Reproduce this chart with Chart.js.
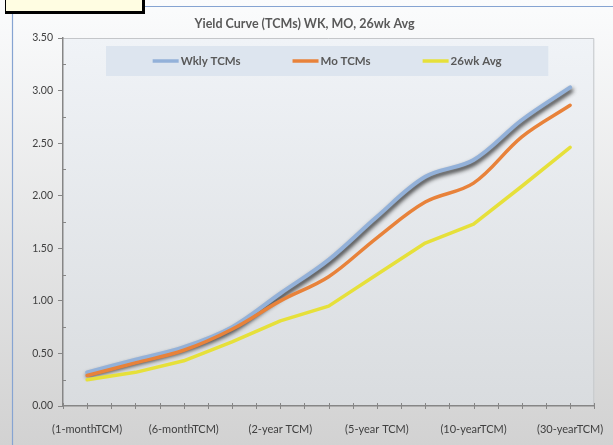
<html lang="en">
<head>
  <meta charset="UTF-8">
  <title>Yield Curve</title>
  <style>
    html, body { margin: 0; padding: 0; background: #e6e6e6; }
    #wrap { position: relative; width: 613px; height: 445px; overflow: hidden; }
    #note { position: absolute; left: 5px; top: -5px; width: 136px; height: 15px;
            background: #fffde2; border: 1px solid #000; border-right-width: 3px; border-bottom-width: 3px; }
  </style>
</head>
<body>
  <div id="wrap">
    <canvas id="chart" width="613" height="445"></canvas>
    <div id="note"></div>
  </div>

  <script src="https://cdn.jsdelivr.net/npm/chart.js"></script>
  <script>
    // x categories (only every other one gets a label on the axis)
    const categories = ['(1-monthTCM)', '(3-monthTCM)', '(6-monthTCM)', '(1-year TCM)', '(2-year TCM)',
      '(3-year TCM)', '(5-year TCM)', '(7-year TCM)', '(10-yearTCM)', '(20-yearTCM)', '(30-yearTCM)'];
    const seriesNames = ['Wkly TCMs', 'Mo TCMs', '26wk Avg'];
    const wklyTCMs = [0.32, 0.44, 0.56, 0.75, 1.07, 1.39, 1.80, 2.18, 2.34, 2.72, 3.03];
    const moTCMs   = [0.29, 0.41, 0.53, 0.73, 1.00, 1.23, 1.60, 1.94, 2.12, 2.56, 2.86];
    const avg26wk  = [0.25, 0.32, 0.43, 0.61, 0.81, 0.95, 1.25, 1.55, 1.73, 2.09, 2.46];
    const yTicks = [0, 0.5, 1, 1.5, 2, 2.5, 3, 3.5];

    const colors = ['#93b1d9', '#e8823a', '#e6e03a'];
    const FONT = 'Lato, "Open Sans", sans-serif';

    // backgrounds, borders, legend box, minor ticks
    const decor = {
      id: 'decor',
      beforeDraw(chart) {
        const { ctx, chartArea: a, width, height } = chart;
        ctx.save();
        let g = ctx.createLinearGradient(0, 0, 0, height);
        g.addColorStop(0, '#fbfcfd');
        g.addColorStop(1, '#d2d2d2');
        ctx.fillStyle = g;
        ctx.fillRect(0, 0, width, height);
        // outer chart border
        ctx.strokeStyle = '#86a4d2';
        ctx.lineWidth = 1.2;
        ctx.beginPath();
        ctx.moveTo(12.5, height);
        ctx.lineTo(12.5, 6.5);
        ctx.lineTo(width, 6.5);
        ctx.stroke();
        // plot area
        g = ctx.createLinearGradient(0, a.top, 0, a.bottom);
        g.addColorStop(0, '#f0f3f7');
        g.addColorStop(1, '#d9dcdf');
        ctx.fillStyle = g;
        ctx.fillRect(a.left, a.top, a.right - a.left, a.bottom - a.top);
        ctx.strokeStyle = '#c4c6c9';
        ctx.lineWidth = 1;
        ctx.beginPath();
        ctx.moveTo(a.left, a.top + 0.5);
        ctx.lineTo(a.right - 0.5, a.top + 0.5);
        ctx.lineTo(a.right - 0.5, a.bottom);
        ctx.stroke();

        // legend box inside plot area
        const bx = a.left + 43, by = a.top + 8, bw = a.right - a.left - 89, bh = 30;
        ctx.fillStyle = '#dde5ef';
        ctx.fillRect(bx, by, bw, bh);
        ctx.font = 'bold 11.5px ' + FONT;
        const lineLen = 26, gap = 52;
        const widths = seriesNames.map(n => ctx.measureText(n).width);
        const total = widths.reduce((s, w) => s + lineLen + 2 + w, 0) + gap * (seriesNames.length - 1);
        let x = bx + (bw - total) / 2;
        const cy = by + bh / 2;
        seriesNames.forEach((n, i) => {
          ctx.strokeStyle = colors[i];
          ctx.lineWidth = 3.5;
          ctx.beginPath();
          ctx.moveTo(x, cy);
          ctx.lineTo(x + lineLen, cy);
          ctx.stroke();
          ctx.fillStyle = '#595959';
          ctx.textBaseline = 'middle';
          ctx.fillText(n, x + lineLen + 2, cy);
          x += lineLen + 2 + widths[i] + gap;
        });
        ctx.restore();
      },
      afterDraw(chart) {
        const { ctx, chartArea: a, scales } = chart;
        ctx.save();
        ctx.strokeStyle = '#868686';
        ctx.lineWidth = 1;
        // x ticks at category centres and boundaries
        const xs = scales.x;
        const step = xs.getPixelForValue(1) - xs.getPixelForValue(0);
        for (let i = 0; i <= categories.length * 2; i++) {
          const px = Math.round(xs.getPixelForValue(0) - step / 2 + i * step / 2) + 0.5;
          ctx.beginPath();
          ctx.moveTo(px, a.bottom - 3);
          ctx.lineTo(px, a.bottom + 3);
          ctx.stroke();
        }
        // y minor ticks
        const ys = scales.y;
        for (let i = 0; i < yTicks.length - 1; i++) {
          const py = Math.round(ys.getPixelForValue((yTicks[i] + yTicks[i + 1]) / 2)) + 0.5;
          ctx.beginPath();
          ctx.moveTo(a.left, py);
          ctx.lineTo(a.left + 3, py);
          ctx.stroke();
        }
        ctx.restore();
      }
    };

    // grey drop shadow under the weekly line
    const shadow = {
      id: 'shadow',
      beforeDatasetDraw(chart, args) {
        if (args.index !== 0) return;
        const ctx = chart.ctx;
        ctx.save();
        ctx.shadowColor = 'rgba(20,20,20,0.9)';
        ctx.shadowBlur = 4;
        ctx.shadowOffsetX = 1;
        ctx.shadowOffsetY = 3;
      },
      afterDatasetDraw(chart, args) {
        if (args.index !== 0) return;
        chart.ctx.restore();
      }
    };

    new Chart(document.getElementById('chart'), {
      type: 'line',
      data: {
        labels: categories,
        datasets: [{
          label: seriesNames[0],
          data: wklyTCMs,
          borderColor: colors[0],
          borderWidth: 4,
          tension: 0.35,
          order: 3
        }, {
          label: seriesNames[1],
          data: moTCMs,
          borderColor: colors[1],
          borderWidth: 3.5,
          tension: 0.35,
          order: 2
        }, {
          label: seriesNames[2],
          data: avg26wk,
          borderColor: colors[2],
          borderWidth: 3.5,
          tension: 0,
          order: 1
        }]
      },
      options: {
        responsive: false,
        animation: false,
        events: [],
        elements: { point: { radius: 0 }, line: { borderCapStyle: 'round', borderJoinStyle: 'round' } },
        layout: { padding: { left: 12, right: 16, top: 0, bottom: 0 } },
        plugins: {
          legend: { display: false },
          tooltip: { enabled: false },
          title: {
            display: true,
            text: 'Yield Curve (TCMs) WK, MO, 26wk Avg',
            color: '#595959',
            font: { family: FONT, size: 12.5, weight: 'bold' },
            padding: { top: 16, bottom: 7 }
          }
        },
        scales: {
          x: {
            offset: true,
            grid: { display: false },
            border: { color: '#868686', width: 1.5 },
            ticks: {
              autoSkip: false,
              maxRotation: 0,
              padding: 9,
              color: '#404040',
              font: { family: FONT, size: 11 },
              callback: (v, i) => (i % 2 === 0 ? categories[i] : '')
            },
            afterFit: s => { s.height = 39; }
          },
          y: {
            min: 0,
            max: 3.5,
            afterBuildTicks: s => { s.ticks = yTicks.map(v => ({ value: v })); },
            grid: { drawOnChartArea: false, tickLength: 5, color: '#868686' },
            border: { color: '#868686', width: 1.5 },
            ticks: {
              padding: 5,
              color: '#404040',
              font: { family: FONT, size: 10.5 },
              callback: v => v.toFixed(2)
            },
            afterFit: s => { s.width = 51; }
          }
        }
      },
      plugins: [decor, shadow]
    });
  </script>
</body>
</html>
